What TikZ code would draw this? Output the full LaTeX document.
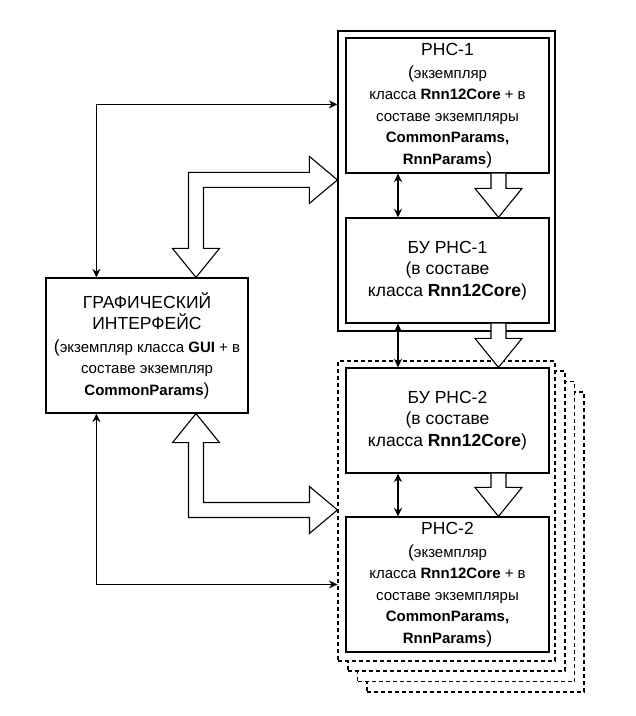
\documentclass[tikz,border=0pt]{standalone}
\usepackage{fontspec}
\setmainfont{Liberation Sans}
\usetikzlibrary{arrows.meta,calc}
\newcommand\bigpar[1]{{\fontsize{17.5}{21.5}\selectfont #1}}
\newcommand\ttl[1]{{\fontsize{17.5}{21.5}\selectfont #1}}
\newcommand\hdown[2]{%
  \draw[hollow] ($(#1)+(-7.5,0)$) -- ($(#2)+(-7.5,-29)$) -- ($(#2)+(-23.5,-29)$) -- (#2)
    -- ($(#2)+(23.5,-29)$) -- ($(#2)+(7.5,-29)$) -- ($(#1)+(7.5,0)$);}
\begin{document}
\begin{tikzpicture}[x=1pt,y=-1pt,
  box/.style={draw, fill=white, line width=1.2pt, inner sep=0pt, align=center,
    font=\fontsize{15}{21.5}\selectfont},
  bigbox/.style={box, font=\fontsize{17.5}{21.5}\selectfont},
  grp/.style={draw, fill=white, line width=1.2pt, inner sep=0pt, minimum width=217pt, minimum height=300pt},
  dgrp/.style={grp, line width=1.1pt, dash pattern=on 4pt off 3pt},
  dbl/.style={line width=1.3pt, {Stealth[length=8.5pt,width=8pt]}-{Stealth[length=8.5pt,width=8pt]}},
  hollow/.style={draw, fill=white, line width=1.1pt, line join=miter}]
\useasboundingbox (0,0) rectangle (636,716);

% stacked dashed groups (back to front)
\node[dgrp] (d4) at (475.5,542) {};
\node[dgrp] (d3) at (466,531.5) {};
\node[dgrp] (d2) at (456.5,521) {};
\node[dgrp] (d1) at (446.5,511) {};
% solid group
\node[grp] (g1) at (446.5,181) {};

% boxes
\node[box, minimum width=203pt, minimum height=135pt] (rnc1) at (447.5,105.5)
  {\ttl{РНС-1}\\[1.5pt]\bigpar{(}экземпляр\\класса \textbf{Rnn12Core} + в\\составе экземпляры\\\textbf{CommonParams,}\\\textbf{RnnParams}\bigpar{)}};
\node[bigbox, minimum width=203pt, minimum height=105pt] (bu1) at (447.5,270.5)
  {БУ РНС-1\\(в составе\\класса \textbf{Rnn12Core})};
\node[bigbox, minimum width=203pt, minimum height=105pt] (bu2) at (447.5,420.5)
  {БУ РНС-2\\(в составе\\класса \textbf{Rnn12Core})};
\node[box, minimum width=203pt, minimum height=135pt] (rnc2) at (447.5,584.5)
  {\ttl{РНС-2}\\[1.5pt]\bigpar{(}экземпляр\\класса \textbf{Rnn12Core} + в\\составе экземпляры\\\textbf{CommonParams,}\\\textbf{RnnParams}\bigpar{)}};
\node[box, minimum width=202pt, minimum height=135pt] (gui) at (147,345.5)
  {\ttl{ГРАФИЧЕСКИЙ}\\\ttl{ИНТЕРФЕЙС}\\[1pt]\bigpar{(}экземпляр класса \textbf{GUI} + в\\составе экземпляр\\\textbf{CommonParams}\bigpar{)}};

% thin double arrows
\draw[dbl] ($(g1.north west)+(0,74)$) -| ($(gui.north west)+(51,0)$);
\draw[dbl] ($(gui.south west)+(51,0)$) |- ($(d1.north west)+(0,224)$);
\draw[dbl] ($(rnc1.south)+(-49.5,0)$) -- ($(bu1.north)+(-49.5,0)$);
\draw[dbl] ($(bu1.south)+(-49.5,0)$) -- ($(bu2.north)+(-49.5,0)$);
\draw[dbl] ($(bu2.south)+(-49.5,0)$) -- ($(rnc2.north)+(-49.5,0)$);

% hollow down arrows
\coordinate (a1s) at ($(rnc1.south)+(51,0)$);
\coordinate (a1t) at ($(bu1.north)+(51,0)$);
\coordinate (a2s) at ($(bu1.south)+(51,0)$);
\coordinate (a2t) at ($(bu2.north)+(51,0)$);
\coordinate (a3s) at ($(bu2.south)+(51,0)$);
\coordinate (a3t) at ($(rnc2.north)+(51,0)$);
\hdown{a1s}{a1t}
\hdown{a2s}{a2t}
\hdown{a3s}{a3t}

% hollow elbow arrows
\coordinate (R) at ($(g1.north west)+(0,149.5)$);
\coordinate (D) at ($(gui.north)+(49,0)$);
\draw[hollow] (R) -- ($(R)+(-28,-23.5)$) -- ($(R)+(-28,-7.5)$) -- ($(D|-R)+(-7.5,-7.5)$)
  -- ($(D)+(-7.5,-29)$) -- ($(D)+(-23.5,-29)$) -- (D) -- ($(D)+(23.5,-29)$) -- ($(D)+(7.5,-29)$)
  -- ($(D|-R)+(7.5,7.5)$) -- ($(R)+(-28,7.5)$) -- ($(R)+(-28,23.5)$) -- cycle;
\coordinate (R2) at ($(d1.north west)+(0,149.5)$);
\coordinate (U) at ($(gui.south)+(49,0)$);
\draw[hollow] (U) -- ($(U)+(23.5,29)$) -- ($(U)+(7.5,29)$) -- ($(U|-R2)+(7.5,-7.5)$)
  -- ($(R2)+(-28,-7.5)$) -- ($(R2)+(-28,-23.5)$) -- (R2) -- ($(R2)+(-28,23.5)$) -- ($(R2)+(-28,7.5)$)
  -- ($(U|-R2)+(-7.5,7.5)$) -- ($(U)+(-7.5,29)$) -- ($(U)+(-23.5,29)$) -- cycle;
\end{tikzpicture}
\end{document}
